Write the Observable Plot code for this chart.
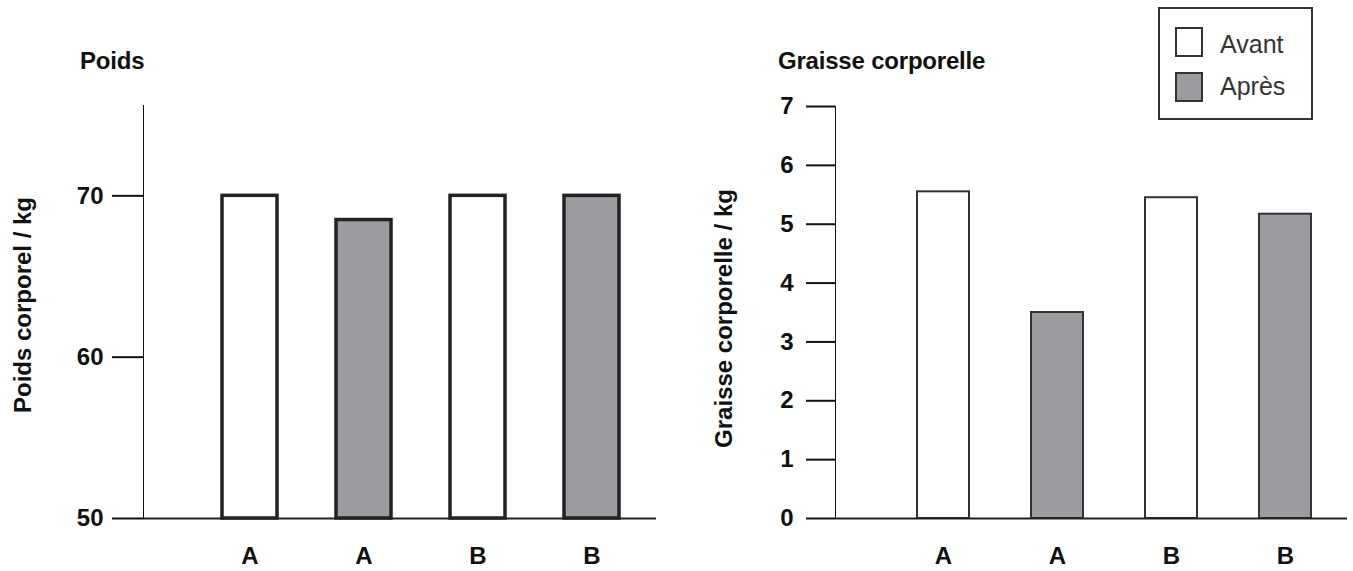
<!DOCTYPE html>
<html>
<head>
<meta charset="utf-8">
<script src="https://cdn.jsdelivr.net/npm/d3@7"></script>
<script src="https://cdn.jsdelivr.net/npm/@observablehq/plot@0.6"></script>
<style>
  html, body { margin: 0; padding: 0; background: #fff; }
  #wrap { position: relative; width: 1353px; height: 571px; overflow: hidden; font-family: "Liberation Sans", Arial, sans-serif; color: #111; }
  .chart { position: absolute; top: 0; }
  .title { position: absolute; font-weight: bold; font-size: 24px; line-height: 24px; white-space: nowrap; letter-spacing: -0.2px; }
  .legend { position: absolute; left: 1158px; top: 7px; width: 151px; height: 109px; border: 2px solid #333; }
  .sw { position: absolute; left: 15px; width: 24px; height: 26px; border: 2px solid #333; }
  .lt { position: absolute; left: 60px; font-size: 25px; line-height: 25px; color: #333; }
  svg g[aria-label^="y-axis"]:not([aria-label$="label"]) { stroke-width: 2px; }
  svg g[aria-label^="y-axis"]:not([aria-label$="label"]) * { stroke-width: 2px; }
</style>
</head>
<body>
<div id="wrap">
  <div id="left" class="chart" style="left:0px"></div>
  <div id="right" class="chart" style="left:676px"></div>
  <div class="title" style="left:80px; top:49px">Poids</div>
  <div class="title" style="left:778px; top:49px">Graisse corporelle</div>
  <div class="legend">
    <div class="sw" style="top:18px; background:#ffffff"></div>
    <div class="lt" style="top:23px">Avant</div>
    <div class="sw" style="top:63px; background:#9b9ca0"></div>
    <div class="lt" style="top:65px">Après</div>
  </div>
</div>
<script>
const groups = ["A", "A", "B", "B"];
const phases = ["Avant", "Après", "Avant", "Après"];
const poids = [70, 68.5, 70, 70];
const graisse = [5.55, 3.5, 5.45, 5.17];
const poidsTicks = [50, 60, 70];
const graisseTicks = [0, 1, 2, 3, 4, 5, 6, 7];
const poidsDomain = [50, 75.6];
const graisseDomain = [0, 7];
const poidsLabel = "Poids corporel / kg";
const graisseLabel = "Graisse corporelle / kg";
const phaseColors = ["#ffffff", "#9b9ca0"];

const ids = groups.map((g, i) => g + "|" + phases[i]);
const poidsData = ids.map((id, i) => ({id, phase: phases[i], value: poids[i]}));
const graisseData = ids.map((id, i) => ({id, phase: phases[i], value: graisse[i]}));

const baseStyle = {fontFamily: "Liberation Sans, Arial, sans-serif", fontWeight: "bold", fontSize: "24px", color: "#111", background: "transparent", overflow: "visible"};

const left = Plot.plot({
  width: 676, height: 571,
  marginLeft: 143, marginRight: 20, marginTop: 105, marginBottom: 53,
  style: baseStyle,
  x: {domain: ids, paddingInner: 0.52, paddingOuter: 0.509, align: 0.68, tickSize: 0, tickPadding: 28, tickFormat: d => d.split("|")[0], label: null},
  y: {domain: poidsDomain, ticks: poidsTicks, tickFormat: d3.format("d"), tickSize: 31, tickPadding: 9, line: true, label: null},
  color: {domain: ["Avant", "Après"], range: phaseColors},
  marks: [
    Plot.barY(poidsData, {x: "id", y1: () => poidsDomain[0], y2: "value", fill: "phase", stroke: "#222", strokeWidth: 3.5}),
    Plot.ruleY([poidsDomain[0]], {stroke: "#222", strokeWidth: 2}),
    Plot.text([poidsLabel], {frameAnchor: "left", textAnchor: "middle", lineAnchor: "middle", rotate: -90, dx: -120, dy: -7, fontSize: 24, fontWeight: "bold", fill: "#111"})
  ]
});
document.getElementById("left").appendChild(left);

const right = Plot.plot({
  width: 677, height: 571,
  marginLeft: 159, marginRight: 6, marginTop: 106, marginBottom: 53,
  style: baseStyle,
  x: {domain: ids, paddingInner: 0.545, paddingOuter: 0.512, align: 0.692, tickSize: 0, tickPadding: 28, tickFormat: d => d.split("|")[0], label: null},
  y: {domain: graisseDomain, ticks: graisseTicks, tickFormat: d3.format("d"), tickSize: 29, tickPadding: 13, line: true, label: null},
  color: {domain: ["Avant", "Après"], range: phaseColors},
  marks: [
    Plot.barY(graisseData, {x: "id", y1: () => graisseDomain[0], y2: "value", fill: "phase", stroke: "#333", strokeWidth: 2}),
    Plot.ruleY([graisseDomain[0]], {stroke: "#222", strokeWidth: 2}),
    Plot.text([graisseLabel], {frameAnchor: "left", textAnchor: "middle", lineAnchor: "middle", rotate: -90, dx: -111, dy: 6, fontSize: 24, fontWeight: "bold", fill: "#111"})
  ]
});
document.getElementById("right").appendChild(right);
</script>
</body>
</html>
